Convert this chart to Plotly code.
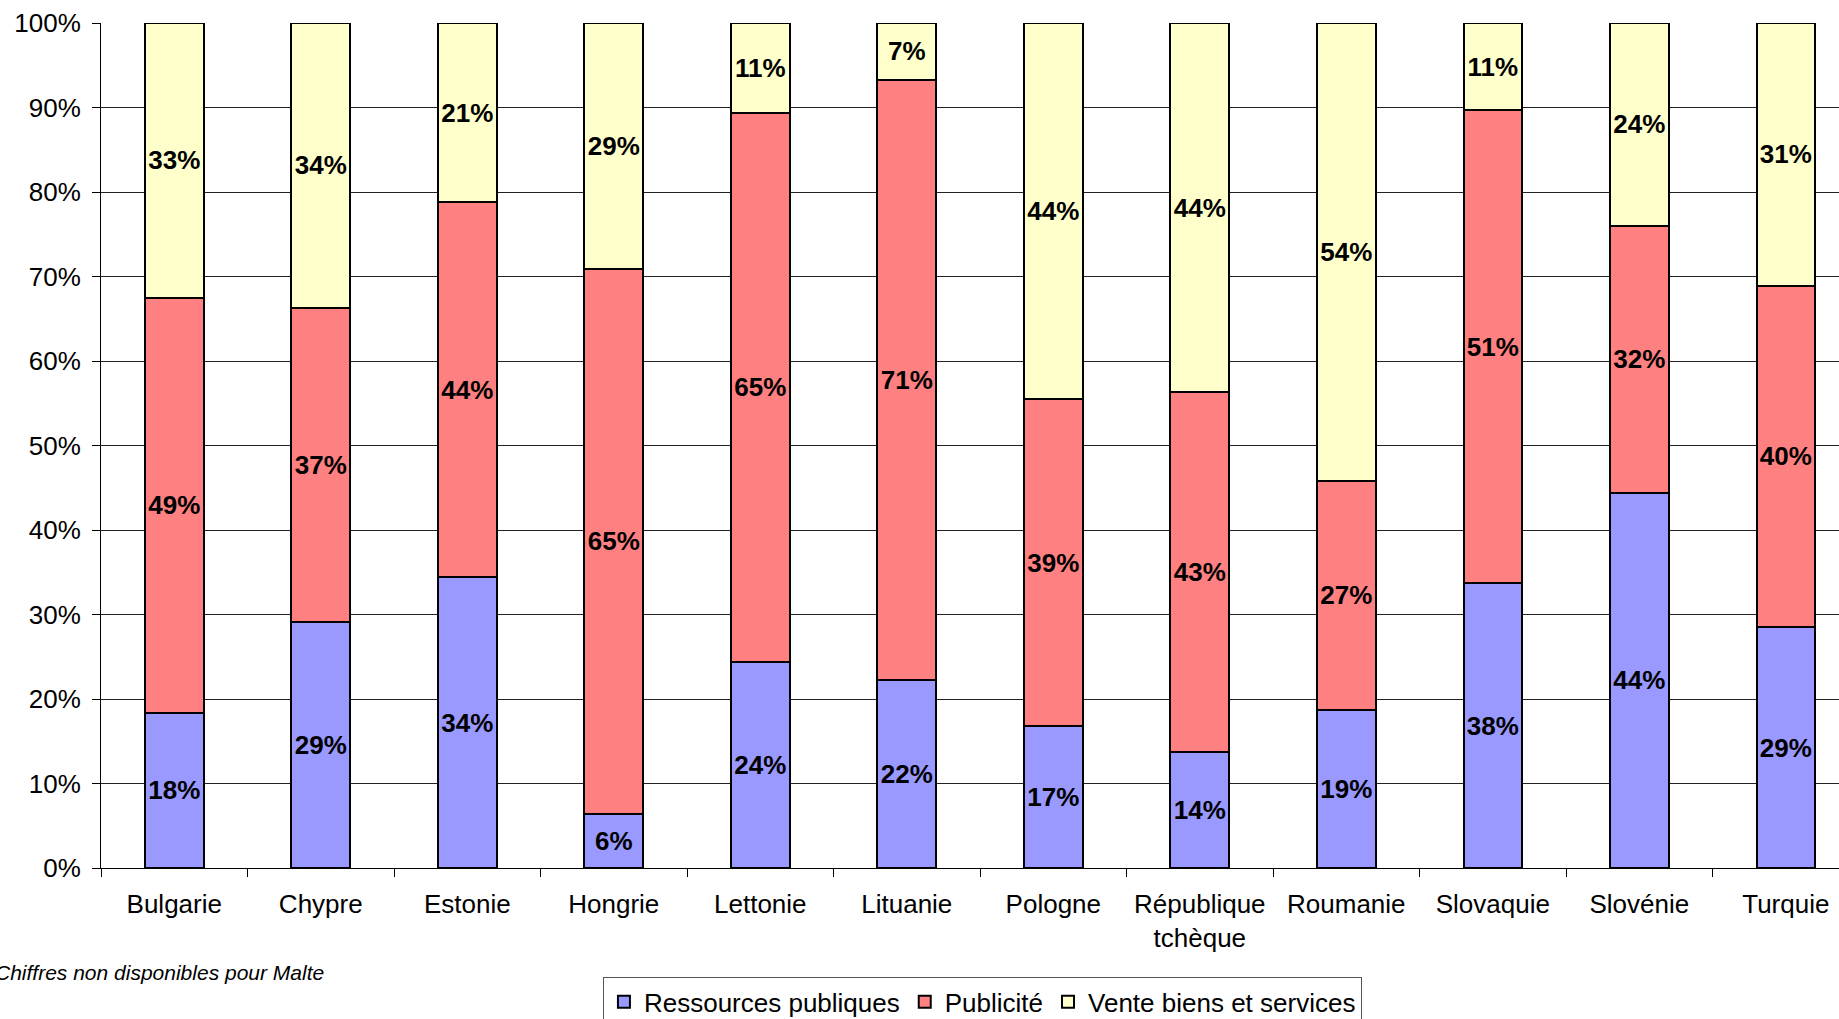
import plotly.graph_objects as go

countries = ["Bulgarie", "Chypre", "Estonie", "Hongrie", "Lettonie", "Lituanie",
             "Pologne", "République<br>tchèque", "Roumanie", "Slovaquie", "Slovénie", "Turquie"]

# bar segment heights (%)
ressources = [18.4, 29.1, 34.4, 6.4, 24.4, 22.3, 16.8, 13.7, 18.7, 33.7, 44.4, 28.5]
publicite = [49.1, 37.2, 44.4, 64.5, 65.0, 71.0, 38.7, 42.6, 27.1, 56.0, 31.6, 40.4]
vente = [32.5, 33.7, 21.2, 29.1, 10.6, 6.7, 44.5, 43.7, 54.2, 10.3, 24.0, 31.1]

# data labels as printed on the chart
lab_ressources = ["18%", "29%", "34%", "6%", "24%", "22%", "17%", "14%", "19%", "38%", "44%", "29%"]
lab_publicite = ["49%", "37%", "44%", "65%", "65%", "71%", "39%", "43%", "27%", "51%", "32%", "40%"]
lab_vente = ["33%", "34%", "21%", "29%", "11%", "7%", "44%", "44%", "54%", "11%", "24%", "31%"]

series = [
    ("Ressources publiques", ressources, lab_ressources, "#9999FF"),
    ("Publicité", publicite, lab_publicite, "#FF8080"),
    ("Vente biens et services", vente, lab_vente, "#FFFFCC"),
]

FONT = "Arial, 'Liberation Sans', sans-serif"

fig = go.Figure()
for name, vals, labs, color in series:
    fig.add_trace(go.Bar(
        name=name, x=countries, y=vals, text=labs,
        textposition="inside", insidetextanchor="middle", textangle=0,
        constraintext="none",
        textfont=dict(family=FONT, size=26, color="black", weight="bold"),
        marker=dict(color=color, line=dict(color="black", width=2)),
        width=0.4, hoverinfo="skip",
    ))

fig.update_layout(
    width=1839, height=1019,
    barmode="stack",
    paper_bgcolor="white", plot_bgcolor="white",
    margin=dict(l=101, r=0, t=23, b=151, autoexpand=False),
    font=dict(family=FONT, size=26, color="black"),
    showlegend=True,
    legend=dict(
        orientation="h", x=0.2888, y=-0.1295, xanchor="left", yanchor="top",
        bordercolor="#555555", borderwidth=1, bgcolor="white",
        font=dict(family=FONT, size=26, color="black"),
        itemwidth=30, traceorder="normal",
    ),
    xaxis=dict(
        type="category", range=[-0.5, 11.363],
        tickson="boundaries", ticks="outside", ticklen=8, tickcolor="black",
        showline=True, linecolor="black", linewidth=1,
        showgrid=False, tickfont=dict(size=26), ticklabelstandoff=13,
    ),
    yaxis=dict(
        range=[0, 100], dtick=10, ticksuffix="%",
        ticks="outside", ticklen=8, tickcolor="black",
        showline=True, linecolor="black", linewidth=1,
        showgrid=True, gridcolor="#222222", gridwidth=1,
        zeroline=False, tickfont=dict(size=26), ticklabelstandoff=6,
    ),
    annotations=[dict(
        text="<i>Chiffres non disponibles pour Malte</i>",
        xref="paper", yref="paper", x=0.1295, y=-0.1232,
        xanchor="right", yanchor="middle", showarrow=False,
        font=dict(family=FONT, size=21, color="black"),
    )],
)

fig.write_html("out.html")
